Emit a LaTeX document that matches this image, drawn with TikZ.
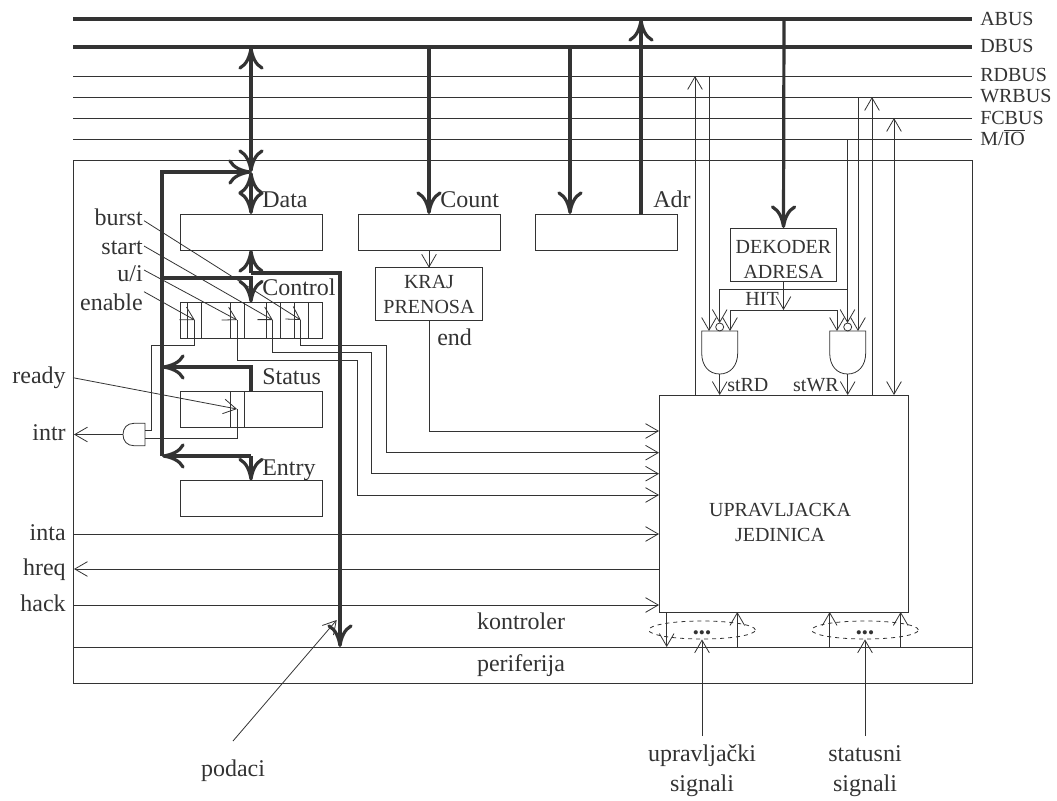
\documentclass[tikz,border=0pt]{standalone}
\usepackage{fontspec}
\setmainfont{Liberation Serif}
\usetikzlibrary{arrows.meta,shapes.geometric}
\definecolor{linecol}{HTML}{333333}
\tikzset{
  tt/.tip={Straight Barb[length=9.5pt,width=11pt]},
  bt/.tip={Computer Modern Rightarrow[length=17pt,width=19pt]},
  wire/.style={draw=linecol,line width=0.6pt},
  bus/.style={draw=linecol,line width=2.4pt},
  regbox/.style={draw=linecol,line width=0.6pt,minimum width=106.5pt,minimum height=27pt,inner sep=0pt,outer sep=0pt},
  lbl/.style={text=linecol,font=\fontsize{18}{22.5}\selectfont,inner sep=0pt},
  sml/.style={text=linecol,font=\fontsize{15}{18.6}\selectfont,inner sep=0pt,align=center},
  sig/.style={draw=linecol,dashed,line width=0.6pt,ellipse,minimum width=80pt,minimum height=13.5pt,inner sep=0pt,font=\fontsize{13}{13}\selectfont,text=linecol},
}
\begin{document}
\begin{tikzpicture}[x=0.75pt,y=-0.75pt]
  \useasboundingbox (0,0) rectangle (1057,800);

  % okvir kontrolera
  \node[draw=linecol,line width=0.6pt,inner sep=0pt,outer sep=0pt,minimum width=674.25pt,minimum height=392.25pt] (kontr) at (522.5,421.5) {};
  \coordinate (perTop) at (73,647);
  \draw[wire] (perTop) -- (972,647);

  % magistrale
  \draw[bus] (73,19) coordinate (aL) -- (972,19) coordinate (aR);
  \draw[bus] (73,47) coordinate (dL) -- (972,47) coordinate (dR);
  \draw[wire] (73,76) -- (972,76) coordinate (rdR);
  \draw[wire] (73,97) -- (972,97) coordinate (wrR);
  \draw[wire] (73,118) -- (972,118) coordinate (fcR);
  \draw[wire] (73,139) -- (972,139) coordinate (ioR);
  \node[sml,anchor=base west] (abus) at (980,25) {ABUS};
  \node[sml,anchor=base west] (dbus) at (980,52.7) {DBUS};
  \node[sml,anchor=base west] (rdbus) at (980,81.7) {RDBUS};
  \node[sml,anchor=base west] (wrbus) at (980,102.7) {WRBUS};
  \node[sml,anchor=base west] (fcbus) at (980,124.3) {FCBUS};
  \node[sml,anchor=base west] (mio) at (980,145.7) {M/$\overline{\hbox{IO}}$};

  % registri
  \node[regbox] (data) at (251,232) {};
  \node[regbox] (count) at (429,232) {};
  \node[regbox] (adr) at (606,232) {};
  \node[regbox] (control) at (251,320.5) {};
  \node[regbox] (status) at (251,409.5) {};
  \node[regbox] (entry) at (251,498.5) {};
  \node[lbl,anchor=base west] (dataL) at (262,207) {Data};
  \node[lbl,anchor=base west] (countL) at (440,207.5) {Count};
  \node[lbl,anchor=base west] (adrL) at (653,207.5) {Adr};
  \node[lbl,anchor=base west] (controlL) at (262,295.7) {Control};
  \node[lbl,anchor=base west] (statusL) at (262,384.3) {Status};
  \node[lbl,anchor=base west] (entryL) at (262,475) {Entry};

  % biti registara
  \foreach \x in {187,201,230,244,266,280,294,308}
    \draw[wire] (\x,303) -- (\x,338);
  \draw[wire] (230,392) -- (230,427);
  \draw[wire] (244,392) -- (244,427);

  % interne veze
  \coordinate (dbusData) at (251,47);
  \coordinate (jData) at (251,172);
  \coordinate (jLeft) at (162,172);
  \coordinate (jEntry) at (162,456);
  \draw[bus,{bt}-{bt}] (dbusData) -- (jData);
  \draw[bus,{bt}-{bt}] (jData) -- (data.north);
  \draw[bus,-{bt}] (jEntry) -- (jLeft) -- (jData);
  \draw[bus,-{bt}] (162,278) -- (251,278) -- (control.north);
  \draw[bus,-{bt}] (status.north) -- (251,367) -- (162,367);
  \draw[bus,-{bt}] (251,456) -- (162,456);
  \draw[bus,-{bt}] (251,456) -- (entry.north);
  \draw[bus,-{bt}] (251,273) -- (data.south);
  \coordinate (perBus) at (340,647);
  \draw[bus,-{bt}] (251,273) -- (340,273) -- (perBus);
  \draw[bus,-{bt}] (429,47) -- (count.north);
  \draw[bus,-{bt}] (570,47) -- (570,214);
  \draw[bus,-{bt}] (641,214) -- (641,19);
  \draw[wire,-{tt}] (count.south) -- (429,267.7);

  % kraj prenosa
  \node[draw=linecol,line width=0.6pt,sml,minimum width=79.7pt,minimum height=39.8pt,outer sep=0pt] (kraj) at (429,294.2) {KRAJ\\PRENOSA};
  \node[lbl,anchor=base west] (endL) at (437,345.7) {end};

  % dekoder
  \node[draw=linecol,line width=0.6pt,sml,minimum width=80pt,minimum height=40.3pt,outer sep=0pt] (dek) at (783.5,254.9) {\rule{0pt}{17pt}DEKODER\\ADRESA};
  \draw[bus,-{bt}] (784,19) -- (dek.north);
  \node[sml,anchor=base east] (hit) at (779,305) {HIT};
  \coordinate (hitJ) at (783.5,310);
  \draw[wire,-{tt}] (dek.south) -- (hitJ);
  \draw[wire,-{tt}] (hitJ) -- (730,310) -- (730,331);
  \draw[wire,-{tt}] (hitJ) -- (837,310) -- (837,331);

  % upravljacka jedinica
  \node[draw=linecol,line width=0.6pt,minimum width=186.75pt,minimum height=162.75pt,inner sep=0pt,outer sep=0pt] (uj) at (783.5,503.5) {};
  \node[sml] (ujL) at (780,522.7) {UPRAVLJACKA\\JEDINICA};

  % gejtovi stRD i stWR
  \draw[wire] (701.7,331) coordinate (rdG) -- (737.7,331) -- (737.7,353) .. controls (737.7,366) and (730,374) .. (719.7,374) coordinate (rdO) .. controls (709,374) and (701.7,366) .. (701.7,353) -- cycle;
  \draw[wire] (829.7,331) coordinate (wrG) -- (865.7,331) -- (865.7,353) .. controls (865.7,366) and (858,374) .. (847.7,374) coordinate (wrO) .. controls (837,374) and (829.7,366) .. (829.7,353) -- cycle;
  \draw[wire] (719.7,327) circle[radius=4];
  \draw[wire] (847.7,327) circle[radius=4];
  \draw[wire,-{tt}] (rdO) -- (719.7,395);
  \draw[wire,-{tt}] (wrO) -- (847.7,395);
  \node[sml,anchor=base west] (stRD) at (727,391) {stRD};
  \node[sml,anchor=base east] (stWR) at (839,391) {stWR};

  % kontrolne linije
  \draw[wire,-{tt}] (695,395) -- (695,76);
  \draw[wire,-{tt}] (709,76) -- (709,331);
  \draw[wire,-{tt}] (872,395) -- (872,97);
  \draw[wire,-{tt}] (858,97) -- (858,331);
  \draw[wire,{tt}-{tt}] (894,118) -- (894,395);
  \draw[wire,-{tt}] (847.5,139) -- (847.5,323);
  \draw[wire,-{tt}] (847.5,289) -- (719.7,289) -- (719.7,323);

  % signali prema jedinici
  \draw[wire,-{tt}] (kraj.south) -- (429,431) -- (659,431);
  \draw[wire,-{tt}] (300.7,320) -- (300.7,345.5) -- (386.7,345.5) -- (386.7,452.7) -- (659,452.7);
  \draw[wire,-{tt}] (272.7,320) -- (272.7,352.7) -- (371.7,352.7) -- (371.7,473.7) -- (659,473.7);
  \draw[wire,-{tt}] (237,320) -- (237,360.7) -- (357.7,360.7) -- (357.7,495) -- (659,495);

  % levi signali
  \node[lbl,anchor=base east] (burst) at (143,225) {burst};
  \node[lbl,anchor=base east] (start) at (143,254) {start};
  \node[lbl,anchor=base east] (ui) at (143,281.7) {u/i};
  \node[lbl,anchor=base east] (enable) at (143,310.7) {enable};
  \draw[wire,-{tt}] (144,220.7) -- (300.7,320);
  \draw[wire,-{tt}] (144,246) -- (272.7,320);
  \draw[wire,-{tt}] (144,270) -- (237,320);
  \draw[wire,-{tt}] (144,291.7) -- (194.7,320);
  \node[lbl,anchor=base east] (ready) at (66,383) {ready};
  \node[lbl,anchor=base east] (intr) at (66,440) {intr};
  \node[lbl,anchor=base east] (inta) at (66,540) {inta};
  \node[lbl,anchor=base east] (hreq) at (66,575) {hreq};
  \node[lbl,anchor=base east] (hack) at (66,611) {hack};
  \draw[wire,-{tt}] (73,377.7) -- (237,409);

  % gejt intr
  \draw[wire] (145,423.3) -- (134,423.3) .. controls (127,423.3) and (123,428) .. (123,434.5) coordinate (andO) .. controls (123,441) and (127,445.7) .. (134,445.7) -- (145,445.7) -- cycle;
  \draw[wire,-{tt}] (andO) -- (74,434.5);
  \draw[wire] (194.7,320) -- (194.7,345) -- (151.7,345) -- (151.7,430.7) -- (145,430.7);
  \draw[wire] (237,409) -- (237,438) -- (145,438);

  \draw[wire,-{tt}] (73,534) -- (659,534);
  \draw[wire,-{tt}] (659,569) -- (74,569);
  \draw[wire,-{tt}] (73,605) -- (659,605);

  % periferija
  \node[lbl,anchor=base] (kontrL) at (521,629) {kontroler};
  \node[lbl,anchor=base] (perL) at (521,671) {periferija};
  \node[sig] (ctrlSig) at (702,630) {\smash{\raisebox{-6pt}{•••}}};
  \node[sig] (statSig) at (865,630) {\smash{\raisebox{-6pt}{•••}}};
  \draw[wire,-{tt}] (666.7,612) -- (666.7,647);
  \draw[wire,-{tt}] (737.3,647) -- (737.3,612);
  \draw[wire,-{tt}] (829.7,647) -- (829.7,612);
  \draw[wire,-{tt}] (900.7,647) -- (900.7,612);
  \node[lbl,align=center] (ctrlL) at (702,771) {upravljački\\signali};
  \node[lbl,align=center] (statL) at (865,771) {statusni\\signali};
  \draw[wire,-{tt}] (702,736) -- (ctrlSig.south);
  \draw[wire,-{tt}] (865,736) -- (statSig.south);
  \node[lbl,anchor=base] (podaci) at (233,776) {podaci};
  \draw[wire,-{tt}] (233,741) -- (336.7,620);
\end{tikzpicture}
\end{document}
